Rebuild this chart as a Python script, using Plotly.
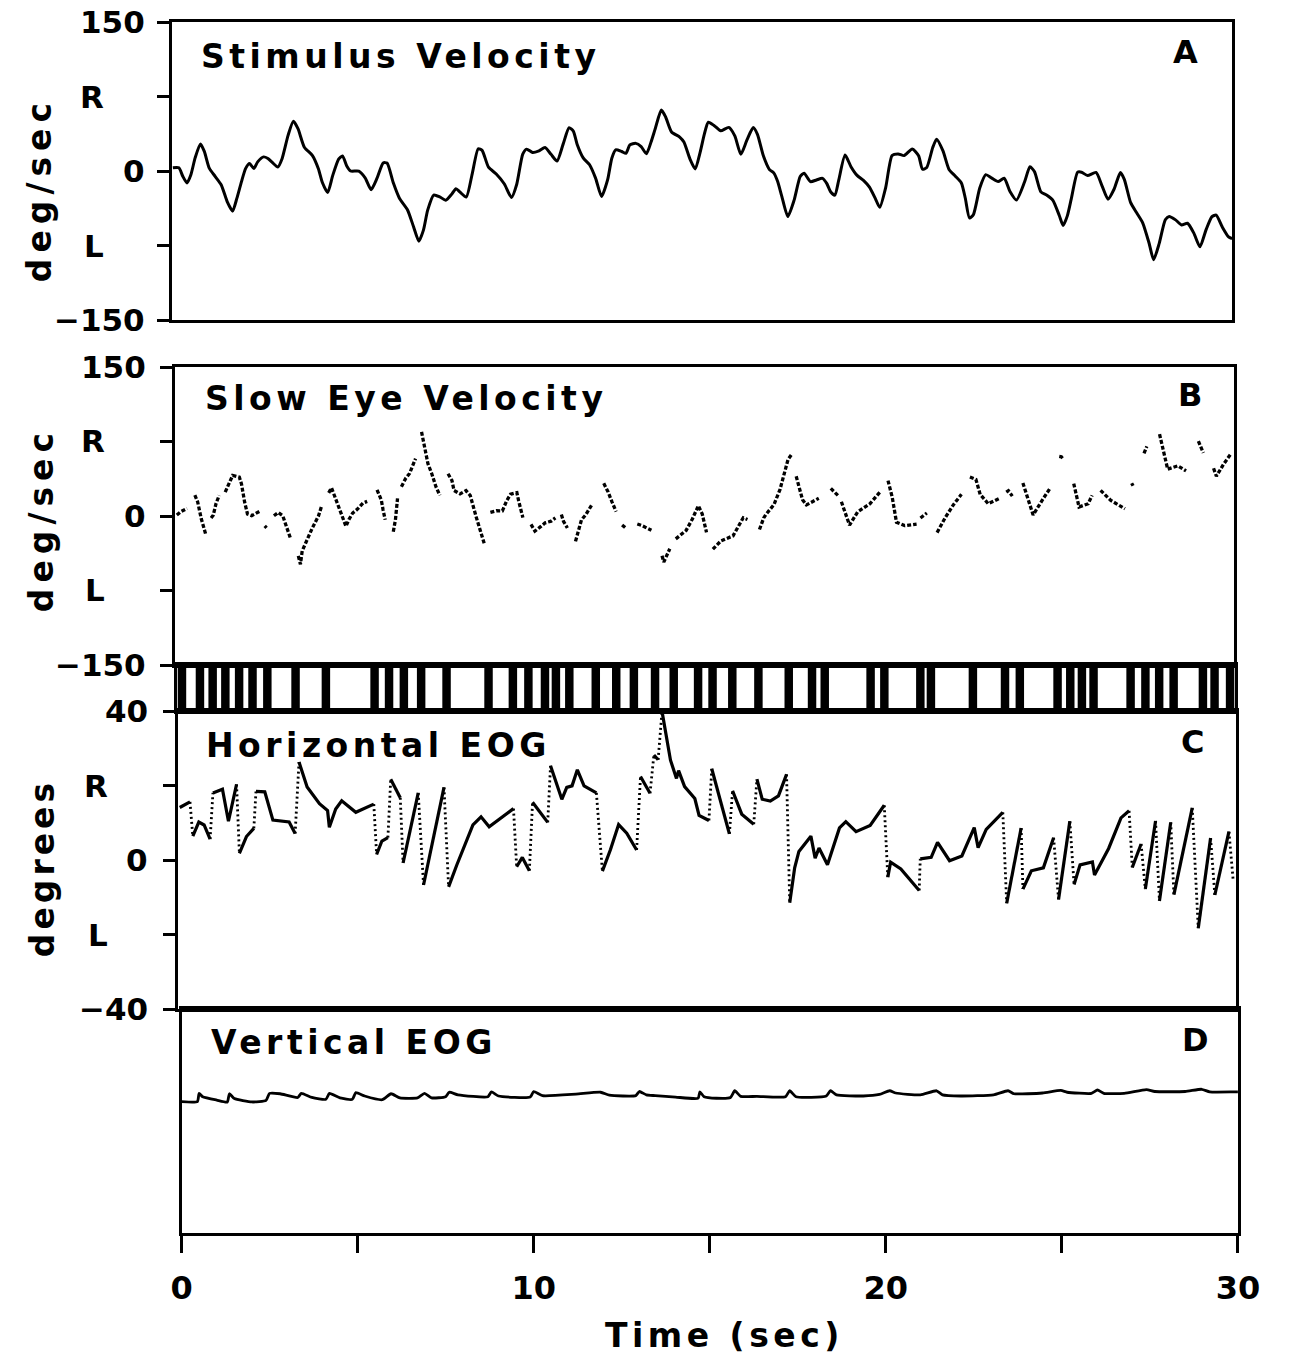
import plotly.graph_objects as go

# ---------------------------------------------------------------- data
# Stimulus velocity (deg/sec), panel A
stim_t = [0.03, 0.20, 0.31, 0.43, 0.54, 0.66, 0.81, 0.92, 1.06, 1.23, 1.40, 1.57, 1.72, 1.84, 1.97,
          2.09, 2.20, 2.32, 2.43, 2.60, 2.72, 2.83, 3.00, 3.12, 3.29, 3.44, 3.57, 3.75, 3.98, 4.15,
          4.26, 4.41, 4.55, 4.72, 4.83, 4.95, 5.06, 5.29, 5.47, 5.64, 5.81, 5.98, 6.09, 6.27, 6.44,
          6.67, 6.84, 6.99, 7.12, 7.24, 7.41, 7.58, 7.75, 7.93, 8.04, 8.15, 8.33, 8.50, 8.67, 8.78,
          8.96, 9.18, 9.41, 9.61, 9.76, 9.93, 10.04, 10.21, 10.39, 10.56, 10.73, 10.90, 11.07, 11.24,
          11.36, 11.47, 11.64, 11.82, 11.99, 12.16, 12.33, 12.45, 12.56, 12.73, 12.85, 12.96, 13.13,
          13.28, 13.43, 13.56, 13.68, 13.85, 13.97, 14.14, 14.37, 14.49, 14.66, 14.81, 14.95, 15.07,
          15.18, 15.35, 15.53, 15.76, 15.93, 16.10, 16.28, 16.45, 16.57, 16.74, 16.91, 17.03, 17.14,
          17.26, 17.43, 17.61, 17.78, 17.89, 18.07, 18.24, 18.41, 18.53, 18.64, 18.76, 18.87, 19.05,
          19.22, 19.39, 19.57, 19.74, 19.91, 20.03, 20.20, 20.38, 20.55, 20.72, 20.95, 21.13, 21.24,
          21.36, 21.53, 21.64, 21.82, 21.99, 22.17, 22.34, 22.45, 22.57, 22.68, 22.86, 23.03, 23.20,
          23.38, 23.55, 23.72, 23.90, 24.13, 24.28, 24.41, 24.59, 24.76, 24.93, 25.11, 25.22, 25.34,
          25.45, 25.63, 25.74, 25.91, 26.15, 26.32, 26.49, 26.66, 26.84, 26.95, 27.13, 27.30, 27.47,
          27.65, 27.78, 27.94, 28.11, 28.22, 28.40, 28.57, 28.74, 28.92, 29.09, 29.26, 29.43, 29.55,
          29.72, 29.90, 30.00]
stim_v = [3.2, 3.2, -5.3, -12.0, -3.7, 13.2, 27.2, 19.7, 2.9, -5.6, -14.1, -31.0, -40.4, -27.6, -10.9,
          2.6, 7.6, 2.5, 9.2, 14.2, 12.5, 9.1, 4.0, 12.4, 35.9, 50.0, 42.6, 24.0, 15.5, 2.0,
          -11.6, -21.7, -4.9, 12.0, 15.2, 5.1, 0.0, -0.1, -6.9, -18.8, -7.0, 8.1, 8.0, -12.2, -27.4,
          -39.2, -56.1, -70.6, -59.5, -39.4, -24.2, -26.0, -29.4, -22.8, -17.8, -21.1, -26.3, -2.8, 22.4, 20.8,
          3.9, -3.0, -13.1, -26.7, -13.3, 17.0, 22.0, 18.6, 20.3, 23.6, 16.8, 10.0, 26.8, 43.6,
          40.2, 26.7, 13.2, 6.3, -7.2, -25.7, -9.0, 12.9, 21.3, 19.6, 17.8, 26.2, 27.8,
          24.5, 17.4, 29.2, 42.8, 61.3, 54.6, 39.3, 34.2, 29.2, 12.2, 2.1, 19.0, 37.4,
          49.1, 45.6, 40.5, 43.9, 35.4, 16.8, 31.9, 43.7, 36.9, 15.0, 1.4, -1.9, -10.4,
          -25.6, -45.9, -29.1, -5.6, -2.2, -10.7, -9.0, -7.4, -12.5, -20.9, -24.3, -9.2, 16.0,
          4.1, -4.4, -9.5, -16.3, -28.1, -36.6, -16.4, 15.6, 17.2, 15.5, 22.1, 15.3, 1.8,
          3.5, 23.6, 32.0, 20.2, 1.6, -5.2, -12.0, -27.2, -47.4, -44.0, -17.2, -3.7, -7.2,
          -10.6, -7.3, -20.8, -29.2, -10.8, 4.3, -0.8, -21.0, -24.4, -29.5, -44.8, -54.9, -44.9,
          -28.1, -1.2, -1.2, -4.6, -1.4, -14.9, -28.4, -18.4, -1.6, -8.4, -31.9, -42.1, -52.2,
          -72.5, -89.4, -72.6, -49.1, -45.7, -49.2, -54.3, -52.6, -62.8, -76.3, -59.5, -46.0, -44.4,
          -56.2, -66.3, -68.0]

# Slow-phase eye velocity (deg/sec), panel B; None marks the gaps left by saccades
slow_t = [0.06, 0.17, 0.35, None,
          0.57, 0.65, 0.75, 0.88, None,
          1.03, 1.09, 1.17, 1.26, None,
          1.43, 1.55, 1.64, 1.83, 1.89, 1.98, 2.06, 2.18, 2.35, 2.44, None,
          2.55, 2.60, None,
          2.81, 2.93, 3.06, 3.15, 3.27, None,
          3.50, 3.56, 3.61, 3.78, 3.90, 4.07, 4.16, None,
          4.36, 4.44, 4.53, 4.70, 4.85, 4.93, 5.04, 5.16, 5.33, 5.45, None,
          5.73, 5.85, 5.90, 5.96, None,
          6.19, 6.25, 6.31, None,
          6.42, 6.54, 6.65, 6.77, 6.82, None,
          6.99, 7.05, 7.17, 7.28, 7.40, 7.51, None,
          7.74, 7.85, 7.91, 8.08, 8.25, 8.37, 8.54, 8.77, None,
          8.94, 9.11, 9.28, 9.40, 9.51, 9.69, 9.74, 9.86, None,
          10.09, 10.20, 10.38, 10.49, 10.66, 10.78, None,
          10.95, 11.01, 11.12, None,
          11.35, 11.46, 11.52, 11.64, 11.81, None,
          12.15, 12.27, 12.38, 12.50, None,
          12.67, 12.78, None,
          13.10, 13.21, 13.50, None,
          13.80, 13.85, 14.02, None,
          14.19, 14.48, 14.66, 14.83, 14.94, 15.06, None,
          15.24, 15.47, 15.81, 16.10, 16.22, None,
          16.56, 16.68, 16.74, 16.97, 17.14, 17.37, 17.47, None,
          17.60, 17.78, 17.89, 18.24, None,
          18.58, 18.82, None,
          18.88, 19.11, 19.34, 19.69, 19.97, None,
          20.20, 20.32, 20.44, 20.67, 21.01, None,
          21.12, 21.19, 21.30, None,
          21.59, 21.82, 22.06, 22.28, None,
          22.52, 22.69, 22.81, 23.04, 23.38, None,
          23.55, 23.61, 23.72, None,
          24.02, 24.31, 24.60, 24.80, None,
          25.05, 25.11, 25.17, None,
          25.46, 25.61, 25.87, 25.98, None,
          26.22, 26.51, 26.91, None,
          27.10, 27.14, None,
          27.45, 27.49, 27.53, None,
          27.89, 28.00, 28.12, 28.41, 28.64, None,
          28.99, 29.13, None,
          29.42, 29.50, 29.70, 29.90]
slow_v = [1.0, 4.3, 7.6, None,
          21.0, 14.2, -2.5, -18.7, None,
          -2.0, 0.7, 12.5, 20.8, None,
          24.1, 34.1, 40.8, 39.1, 32.4, 13.9, 2.1, 0.4, 3.7, 5.4, None,
          -10.0, -12.0, None,
          0.2, 3.5, 0.2, -8.5, -21.7, None,
          -40.2, -48.6, -35.2, -20.2, -11.8, -0.1, 10.0, None,
          23.3, 28.3, 19.9, 3.0, -10.4, -3.7, 3.0, 6.4, 13.0, 14.7, None,
          26.3, 16.2, 6.3, -3.8, None,
          -15.8, -4.0, 17.7, None,
          29.5, 37.8, 42.8, 54.5, 57.8, None,
          84.7, 72.9, 52.8, 42.6, 29.2, 20.8, None,
          42.5, 35.8, 25.7, 22.3, 25.6, 20.6, -1.3, -28.3, None,
          3.6, 5.3, 5.2, 15.3, 21.9, 23.5, 15.2, -1.7, None,
          -8.5, -15.2, -10.2, -6.9, -5.2, -1.9, None,
          1.4, -5.3, -12.1, None,
          -25.5, -12.2, -3.8, 1.2, 11.2, None,
          32.9, 24.5, 14.5, 4.4, None,
          -9.0, -12.4, None,
          -8.0, -9.3, -14.4, None,
          -40.0, -46.4, -33.0, None,
          -23.0, -14.7, -3.0, 10.4, 1.9, -16.5, None,
          -33.4, -25.0, -20.0, -1.8, -3.5, None,
          -13.6, -2.0, 1.4, 11.5, 26.5, 57.0, 62.0, None,
          40.0, 16.3, 11.2, 17.8, None,
          27.8, 19.3, None,
          14.3, -9.2, 4.1, 12.4, 24.0, None,
          35.7, 18.9, -6.3, -9.7, -8.1, None,
          -2.0, 0.2, 3.0, None,
          -16.7, -1.7, 11.7, 21.8, None,
          39.2, 36.8, 21.7, 12.3, 18.1, None,
          24.0, 25.5, 20.0, None,
          33.2, 1.1, 17.7, 28.4, None,
          60.0, 59.6, 57.0, None,
          32.7, 9.1, 12.4, 20.8, None,
          25.8, 15.7, 7.3, None,
          33.0, 30.5, None,
          63.0, 67.4, 70.0, None,
          82.4, 64.0, 47.2, 50.5, 45.4, None,
          75.3, 63.5, None,
          48.0, 40.0, 52.0, 62.0]

# Saccade onset times (sec) for the event marker strip
saccade_t = [0.15, 0.66, 1.02, 1.38, 1.77, 2.15, 2.57, 3.37, 4.23, 5.61, 6.02, 6.44, 6.93, 7.65,
             8.84, 9.53, 9.97, 10.44, 10.75, 11.13, 11.88, 12.46, 12.96, 13.56, 14.09, 14.78,
             15.19, 15.75, 16.49, 17.35, 18.01, 18.37, 19.67, 20.06, 21.08, 21.38, 22.57, 23.48,
             23.90, 24.97, 25.33, 25.66, 25.99, 27.04, 27.46, 27.85, 28.26, 29.09, 29.42, 29.86]

# Horizontal EOG (degrees), panel C; fast = True where the sample ends a fast phase
eog_h_t = [0.06, 0.35, 0.43, 0.60, 0.75, 0.92, 1.00, 1.27, 1.44, 1.67, 1.75, 1.95, 2.16, 2.22, 2.47,
           2.70, 3.16, 3.33, 3.44, 3.67, 4.02, 4.25, 4.30, 4.48, 4.65, 5.05, 5.56, 5.64, 5.79, 5.96,
           6.04, 6.31, 6.39, 6.82, 6.97, 7.55, 7.68, 7.91, 8.37, 8.60, 8.83, 9.52, 9.61, 9.77, 9.97,
           10.06, 10.49, 10.57, 10.89, 11.03, 11.18, 11.33, 11.52, 11.87, 12.04, 12.27, 12.50, 12.73,
           13.01, 13.12, 13.39, 13.50, 13.62, 13.73, 13.97, 14.14, 14.20, 14.37, 14.66, 14.78, 15.06,
           15.14, 15.64, 15.73, 15.99, 16.33, 16.42, 16.57, 16.80, 17.03, 17.26, 17.35, 17.49, 17.61,
           17.95, 18.07, 18.18, 18.42, 18.76, 18.94, 19.23, 19.63, 20.03, 20.13, 20.21, 20.50, 21.02,
           21.05, 21.36, 21.54, 21.88, 22.23, 22.58, 22.69, 22.92, 23.39, 23.50, 23.91, 23.96, 24.20,
           24.54, 24.83, 24.97, 25.29, 25.41, 25.58, 25.93, 25.99, 26.39, 26.74, 26.97, 27.06, 27.31,
           27.43, 27.72, 27.83, 28.15, 28.24, 28.76, 28.93, 29.28, 29.40, 29.80, 29.92]
eog_h_v = [14.1, 15.6, 6.4, 10.2, 9.4, 5.6, 18.0, 19.0, 10.4, 20.3, 1.8, 6.3, 8.5, 18.4, 18.3,
           10.7, 10.2, 7.1, 26.3, 19.6, 15.1, 13.3, 8.8, 13.7, 15.9, 12.8, 15.0, 1.5, 5.1, 6.0,
           21.7, 16.7, -0.8, 18.0, -6.7, 19.5, -7.2, -1.4, 9.4, 11.6, 8.9, 13.8, -1.8, 0.7, -2.9,
           15.5, 10.1, 25.3, 16.3, 19.5, 19.9, 24.2, 19.9, 18.0, -3.0, 2.8, 9.5, 7.2,
           2.7, 22.4, 17.9, 28.2, 26.9, 39.9, 26.8, 21.9, 24.0, 19.7, 16.5, 12.0, 10.6,
           24.5, 7.0, 18.6, 12.3, 9.6, 21.7, 16.3, 15.8, 17.2, 23.0, -11.5, -2.1, 2.3,
           6.4, 0.5, 3.2, -1.3, 8.6, 10.3, 7.6, 9.3, 14.7, -4.6, -0.6, -2.4, -8.2,
           0.3, 0.7, 4.7, -0.2, 1.1, 8.7, 3.3, 8.2, 12.8, -11.6, 8.6, -7.8, -2.9,
           -2.1, 6.0, -10.6, 10.4, -6.6, -1.3, -0.5, -4.0, 3.1, 11.3, 13.2, -2.0, 4.3,
           -7.8, 10.5, -11.0, 10.1, -9.3, 14.0, -18.3, 5.9, -9.4, 7.6, -5.4]
eog_h_fast = [False, False, True, False, False, False, True, False, False, False, True, False, False, True, False,
              False, False, False, True, False, False, False, False, False, False, False, False, True, False, False,
              True, False, True, False, True, False, True, False, False, False, False, False, True, False, False,
              True, False, True, False, False, False, False, False, False, True, False, False, False,
              False, True, False, True, False, True, False, False, False, False, False, False, False,
              True, False, True, False, False, True, False, False, False, False, True, False, False,
              False, False, False, False, False, False, False, False, False, True, False, False, False,
              True, False, False, False, False, False, False, False, False, True, False, True, False,
              False, False, True, False, True, False, False, False, False, False, False, True, False,
              True, False, True, False, True, False, True, False, True, False, True]

# Vertical EOG (degrees), panel D
eog_v_t = [0.00, 0.45, 0.50, 0.60, 1.00, 1.30, 1.36, 1.50, 2.00, 2.40, 2.50, 2.80, 3.30, 3.40, 3.70,
           4.10, 4.20, 4.50, 4.85, 4.95, 5.20, 5.70, 5.95, 6.20, 6.70, 6.90, 7.10, 7.50, 7.60, 7.85,
           8.70, 8.80, 9.00, 9.90, 10.00, 10.25, 11.20, 11.90, 12.15, 12.90, 13.00, 13.20, 13.45,
           14.03, 14.67, 14.72, 14.84, 15.19, 15.59, 15.71, 15.88, 16.34, 17.15, 17.27, 17.45, 18.31,
           18.43, 18.60, 19.36, 19.82, 20.11, 20.28, 20.98, 21.44, 21.61, 22.13, 23.06, 23.47, 23.64,
           24.45, 24.97, 25.15, 25.84, 26.01, 26.19, 26.77, 27.40, 27.64, 28.50, 28.97, 29.20, 29.89, 30.00]
eog_v_v = [-4.8, -4.8, -2.6, -3.5, -4.4, -4.9, -2.7, -4.0, -4.9, -4.5, -2.6, -2.7, -3.7, -2.6, -3.7,
           -4.2, -2.6, -3.8, -4.2, -2.4, -3.3, -4.3, -2.7, -3.8, -3.8, -2.6, -3.8, -3.5, -2.3, -3.0,
           -3.5, -2.2, -3.3, -3.6, -2.1, -3.2, -2.8, -2.3, -3.1, -3.2, -2.1, -3.0, -3.2,
           -3.6, -3.9, -2.2, -3.5, -3.9, -3.7, -1.9, -3.4, -3.4, -3.5, -1.9, -3.5, -3.3,
           -1.9, -3.0, -3.3, -2.9, -1.9, -2.5, -3.0, -1.9, -3.0, -3.3, -3.0, -1.9, -2.7,
           -2.5, -1.8, -2.3, -2.6, -1.7, -2.6, -2.6, -1.6, -2.1, -2.1, -1.5, -2.2, -2.2, -2.2]

# tick values / labels
vel_ticks = [150, 75, 0, -75, -150]
vel_labels = ["150", "R", "0", "L", "\u2212150"]
deg_ticks = [40, 20, 0, -20, -40]
deg_labels = ["40", "R", "0", "L", "\u221240"]
time_ticks = [0, 5, 10, 15, 20, 25, 30]
time_labels = ["0", "", "10", "", "20", "", "30"]

# ---------------------------------------------------------------- layout helpers
W, H = 1296, 1358
FONT = "DejaVu Sans"


def dom_x(left, right):
    return [left / W, right / W]


def dom_y(top, bottom):
    return [1 - bottom / H, 1 - top / H]


def spaced(text, sp):
    return f'<span style="letter-spacing:{sp}px">{text}</span>'


# panel frames in pixels: (left, right, top, bottom)
frames = {
    "A": (165, 1253, 22, 320),
    "B": (168, 1255, 367, 665),
    "S": (170, 1256, 668, 708),
    "C": (171, 1257, 711, 1009),
    "D": (175, 1259, 1009, 1233),
}

fig = go.Figure()

# A: stimulus velocity
fig.add_trace(go.Scatter(x=stim_t, y=stim_v, mode="lines", xaxis="x", yaxis="y",
                         line=dict(color="black", width=3, shape="spline", smoothing=0.6),
                         hoverinfo="skip"))

# B: slow eye velocity (dotted fragments)
fig.add_trace(go.Scatter(x=slow_t, y=slow_v, mode="lines", xaxis="x2", yaxis="y2",
                         connectgaps=False,
                         line=dict(color="black", width=3.3, dash="4px,2px"),
                         hoverinfo="skip"))

# saccade marker strip
fig.add_trace(go.Bar(x=saccade_t, y=[1] * len(saccade_t), width=0.24, xaxis="x5", yaxis="y5",
                     marker=dict(color="black", line=dict(width=0)), hoverinfo="skip"))

# C: horizontal EOG, slow phases solid and fast phases dotted
slow_x, slow_y, fast_x, fast_y = [], [], [], []
prev = None
for t, v, f in zip(eog_h_t, eog_h_v, eog_h_fast):
    if f and prev is not None:
        fast_x += [prev[0], t, None]
        fast_y += [prev[1], v, None]
        slow_x.append(None)
        slow_y.append(None)
    slow_x.append(t)
    slow_y.append(v)
    prev = (t, v)
fig.add_trace(go.Scatter(x=slow_x, y=slow_y, mode="lines", xaxis="x3", yaxis="y3",
                         connectgaps=False, line=dict(color="black", width=3.2),
                         hoverinfo="skip"))
fig.add_trace(go.Scatter(x=fast_x, y=fast_y, mode="lines", xaxis="x3", yaxis="y3",
                         connectgaps=False, line=dict(color="black", width=2.8, dash="2px,3px"),
                         hoverinfo="skip"))

# D: vertical EOG
fig.add_trace(go.Scatter(x=eog_v_t, y=eog_v_v, mode="lines", xaxis="x4", yaxis="y4",
                         line=dict(color="black", width=2.8, shape="spline", smoothing=0.5),
                         hoverinfo="skip"))

frame_line = dict(showline=True, mirror=True, linewidth=3, linecolor="black",
                  showgrid=False, zeroline=False, fixedrange=True)

layout = dict(
    width=W, height=H, margin=dict(l=0, r=0, t=0, b=0),
    paper_bgcolor="white", plot_bgcolor="white", showlegend=False,
    font=dict(family=FONT, color="black"),
)

axis_map = [("A", "xaxis", "yaxis", "x", "y", [-150, 150], vel_ticks),
            ("B", "xaxis2", "yaxis2", "x2", "y2", [-150, 150], vel_ticks),
            ("C", "xaxis3", "yaxis3", "x3", "y3", [-40, 40], deg_ticks),
            ("D", "xaxis4", "yaxis4", "x4", "y4", [-40, 20], None),
            ("S", "xaxis5", "yaxis5", "x5", "y5", [0, 1], None)]

for key, xa, ya, xid, yid, yr, yt in axis_map:
    l, r, t, b = frames[key]
    xdef = dict(frame_line, domain=dom_x(l, r), range=[0, 30], anchor=yid,
                ticks="", showticklabels=False)
    ydef = dict(frame_line, domain=dom_y(t, b), range=yr, anchor=xid,
                ticks="", showticklabels=False)
    if yt is not None:
        ydef.update(tickmode="array", tickvals=yt, ticks="outside", ticklen=12,
                    tickwidth=3, tickcolor="black")
    if key == "S":
        xdef.update(linewidth=6)
        ydef.update(linewidth=3)
    if key == "D":
        xdef.update(tickmode="array", tickvals=time_ticks, ticktext=time_labels,
                    ticks="outside", ticklen=17, tickwidth=3, tickcolor="black",
                    showticklabels=True, ticklabelstandoff=8,
                    tickfont=dict(family=FONT, size=32, color="black", weight="bold"))
    layout[xa] = xdef
    layout[ya] = ydef

fig.update_layout(**layout)

ann = []
bold = dict(family=FONT, color="black", weight="bold")


def tick_labels(yref, ticks, labels, num_right, letter_right):
    for v, s in zip(ticks, labels):
        right = letter_right if s in ("R", "L") else num_right
        ann.append(dict(text=s, x=right / W, y=v, xref="paper", yref=yref,
                        xanchor="right", yanchor="middle", showarrow=False,
                        font=dict(bold, size=31)))


tick_labels("y", vel_ticks, vel_labels, 140, 97)
tick_labels("y2", vel_ticks, vel_labels, 141, 99)
tick_labels("y3", deg_ticks, deg_labels, 143, 102)

# axis titles (rotated)
for text, cx, cy, sp in [("deg/sec", 30, 190, 6), ("deg/sec", 31, 520, 6), ("degrees", 33, 868, 4)]:
    ann.append(dict(text=spaced(text, sp), x=cx / W, y=1 - cy / H, xref="paper", yref="paper",
                    xanchor="center", yanchor="middle", textangle=-90, showarrow=False,
                    font=dict(bold, size=33)))

# panel titles and letters
for text, lx, cy in [("Stimulus Velocity", 193, 57), ("Slow Eye Velocity", 197, 398),
                     ("Horizontal EOG", 198, 745), ("Vertical EOG", 203, 1042)]:
    ann.append(dict(text=spaced(text, 4.5), x=lx / W, y=1 - cy / H, xref="paper", yref="paper",
                    xanchor="left", yanchor="middle", showarrow=False,
                    font=dict(bold, size=33)))
for text, cx, cy in [("A", 1205, 52), ("B", 1210, 395), ("C", 1212, 742), ("D", 1215, 1040)]:
    ann.append(dict(text=text, x=cx / W, y=1 - cy / H, xref="paper", yref="paper",
                    xanchor="center", yanchor="middle", showarrow=False,
                    font=dict(bold, size=32)))

# time axis title
ann.append(dict(text=spaced("Time (sec)", 4.5), x=732 / W, y=1 - 1335 / H, xref="paper", yref="paper",
                xanchor="center", yanchor="middle", showarrow=False,
                font=dict(bold, size=33)))

fig.update_layout(annotations=ann)

fig.write_html("out.html")
